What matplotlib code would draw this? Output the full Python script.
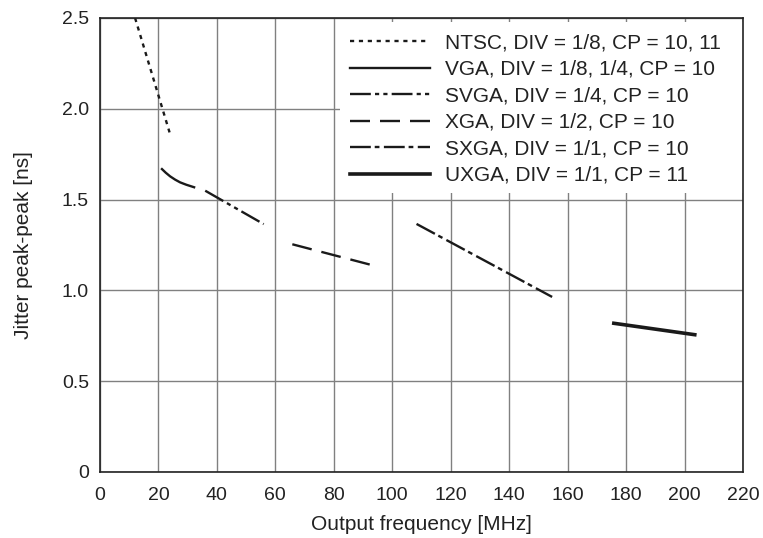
import matplotlib as mpl
mpl.use("Agg")
import matplotlib.pyplot as plt
from matplotlib.patches import Rectangle

plt.rcParams["font.family"] = ["Liberation Sans", "DejaVu Sans"]
plt.rcParams["lines.scale_dashes"] = False

# data (MHz, ns)
ntsc_f = [12.0, 18.0, 23.8]
ntsc_j = [2.50, 2.18, 1.87]
vga_f = [21.2, 22.5, 24.0, 25.7, 27.4, 29.5, 32.2]
vga_j = [1.668, 1.648, 1.628, 1.610, 1.595, 1.582, 1.568]
svga_f = [36.0, 56.0]
svga_j = [1.549, 1.365]
xga_f = [65.8, 92.4]
xga_j = [1.254, 1.142]
sxga_f = [108.3, 154.7]
sxga_j = [1.366, 0.964]
uxga_f = [175.8, 203.5]
uxga_j = [0.819, 0.756]

x_ticks = list(range(0, 221, 20))
y_ticks = [0, 0.5, 1.0, 1.5, 2.0, 2.5]
y_tick_labels = ["0", "0.5", "1.0", "1.5", "2.0", "2.5"]

fig = plt.figure(figsize=(7.63, 5.38), dpi=100)
ax = fig.add_axes([100 / 763, 66 / 538, 643 / 763, 454 / 538])

ink = "#1a1a1a"
ax.plot(ntsc_f, ntsc_j, color=ink, lw=1.7, dashes=(3.0, 3.4),
        label="NTSC, DIV = 1/8, CP = 10, 11")
ax.plot(vga_f, vga_j, color=ink, lw=1.7,
        label="VGA, DIV = 1/8, 1/4, CP = 10")
ax.plot(svga_f, svga_j, color=ink, lw=1.7, dashes=(15, 3, 3, 3, 3, 3),
        label="SVGA, DIV = 1/4, CP = 10")
ax.plot(xga_f, xga_j, color=ink, lw=1.7, dashes=(14.4, 7.2),
        label="XGA, DIV = 1/2, CP = 10")
ax.plot(sxga_f, sxga_j, color=ink, lw=1.7, dashes=(15, 2.8, 3.4, 3.2),
        label="SXGA, DIV = 1/1, CP = 10")
ax.plot(uxga_f, uxga_j, color=ink, lw=2.6,
        label="UXGA, DIV = 1/1, CP = 11")

ax.set_xlim(0, 220)
ax.set_ylim(0, 2.5)
ax.set_xticks(x_ticks)
ax.set_yticks(y_ticks)
ax.set_yticklabels(y_tick_labels)
ax.tick_params(length=0, labelsize=14, colors="#222222")
ax.tick_params(axis="x", pad=11)
ax.tick_params(axis="y", pad=8)
ax.grid(True, color="#808080", lw=1.0)
ax.set_axisbelow(True)

for s in ax.spines.values():
    s.set_color("#222222")
    s.set_linewidth(1.2)
    s.set_zorder(6)

ax.set_xlabel("Output frequency [MHz]", fontsize=15, labelpad=8, color="#222222")
ax.set_ylabel("Jitter peak-peak [ns]", fontsize=15, labelpad=21, color="#222222")

# white patch behind the legend, gridlines only peek out above and below
ax.add_patch(Rectangle((0.373, 0.6145), 0.627, 0.3765, transform=ax.transAxes,
                       facecolor="white", edgecolor="none", zorder=4))

leg = ax.legend(loc="upper left", bbox_to_anchor=(0.389, 0.966), borderaxespad=0,
                fontsize=15, handlelength=3.85, handletextpad=0.72,
                labelspacing=0.36, borderpad=0, frameon=False)
leg.set_zorder(5)
for t in leg.get_texts():
    t.set_color("#222222")

fig.savefig("out.png", dpi=100)
